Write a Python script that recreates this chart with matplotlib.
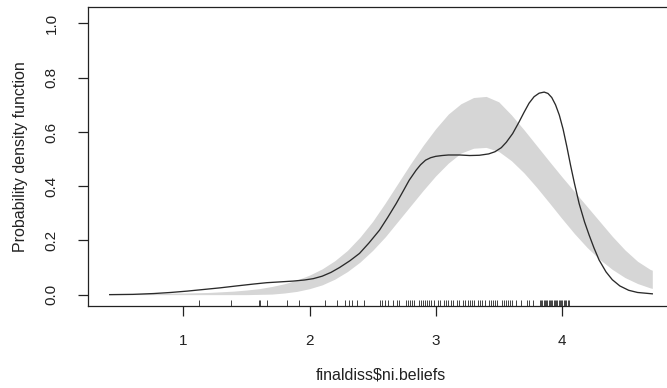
import matplotlib
matplotlib.use("Agg")
import matplotlib.pyplot as plt
from matplotlib.transforms import blended_transform_factory

plt.rcParams['font.family'] = ['Liberation Sans', 'DejaVu Sans']

# Kernel density estimate of the variable
dens_x = [0.416, 0.60, 0.764, 0.90, 1.03, 1.16, 1.29, 1.42, 1.555, 1.66, 1.766,
          1.87, 1.96, 2.03, 2.10, 2.17, 2.238, 2.32, 2.396, 2.47, 2.555, 2.62,
          2.687, 2.74, 2.79, 2.845, 2.88, 2.92, 2.96, 3.00, 3.05, 3.10, 3.19,
          3.27, 3.346, 3.42, 3.47, 3.52, 3.56, 3.61, 3.66, 3.70, 3.74, 3.78,
          3.82, 3.86, 3.89, 3.92, 3.95, 3.98, 4.01, 4.04, 4.07, 4.10, 4.137,
          4.18, 4.216, 4.255, 4.295, 4.35, 4.40, 4.46, 4.53, 4.60, 4.717]
dens_y = [0.000, 0.001, 0.004, 0.008, 0.013, 0.019, 0.025, 0.032, 0.039, 0.044,
          0.047, 0.050, 0.054, 0.059, 0.068, 0.082, 0.100, 0.125, 0.152, 0.190,
          0.238, 0.285, 0.336, 0.380, 0.422, 0.459, 0.479, 0.496, 0.505, 0.510,
          0.513, 0.515, 0.515, 0.513, 0.514, 0.519, 0.527, 0.542, 0.562, 0.594,
          0.636, 0.672, 0.706, 0.730, 0.743, 0.747, 0.742, 0.727, 0.700, 0.662,
          0.610, 0.545, 0.475, 0.410, 0.336, 0.268, 0.220, 0.172, 0.128, 0.084,
          0.055, 0.032, 0.016, 0.008, 0.003]

# Reference band for a normal model
band_x = [0.416, 0.6, 0.8, 1.0, 1.2, 1.4, 1.5, 1.6, 1.7, 1.8, 1.9, 2.0, 2.1,
          2.2, 2.3, 2.4, 2.5, 2.6, 2.7, 2.8, 2.9, 3.0, 3.1, 3.2, 3.3, 3.4, 3.5,
          3.6, 3.7, 3.8, 3.9, 4.0, 4.1, 4.2, 4.3, 4.4, 4.5, 4.6, 4.7, 4.717]
band_upper = [0.004, 0.004, 0.005, 0.006, 0.008, 0.013, 0.017, 0.022, 0.030,
              0.040, 0.054, 0.072, 0.095, 0.125, 0.163, 0.212, 0.270, 0.338,
              0.410, 0.482, 0.550, 0.612, 0.666, 0.704, 0.727, 0.731, 0.711,
              0.663, 0.608, 0.550, 0.492, 0.435, 0.380, 0.325, 0.270, 0.215,
              0.165, 0.123, 0.093, 0.090]
band_lower = [0.0, 0.0, 0.0, 0.0, 0.0, 0.0, 0.0, 0.001, 0.002, 0.006, 0.012,
              0.022, 0.036, 0.057, 0.085, 0.120, 0.163, 0.213, 0.270, 0.327,
              0.384, 0.438, 0.485, 0.522, 0.540, 0.543, 0.528, 0.494, 0.449,
              0.396, 0.339, 0.281, 0.225, 0.174, 0.130, 0.093, 0.063, 0.041,
              0.025, 0.023]

# Observed values (rug)
rug_x = [1.12, 1.38, 1.60, 1.61, 1.66, 1.82, 1.92, 2.12, 2.22, 2.28, 2.31,
         2.34, 2.38, 2.43, 2.555, 2.578, 2.598, 2.622, 2.662, 2.696, 2.713,
         2.764, 2.781, 2.798, 2.814, 2.831, 2.865, 2.882, 2.899, 2.916, 2.932,
         2.949, 2.966, 2.983, 3.017, 3.034, 3.067, 3.084, 3.101, 3.118, 3.135,
         3.168, 3.185, 3.219, 3.236, 3.253, 3.269, 3.286, 3.303, 3.337, 3.354,
         3.371, 3.387, 3.421, 3.438, 3.455, 3.471, 3.488, 3.522, 3.539, 3.556,
         3.572, 3.589, 3.606, 3.640, 3.674, 3.724, 3.741, 3.775, 3.825, 3.835,
         3.845, 3.855, 3.865, 3.875, 3.885, 3.895, 3.905, 3.915, 3.925, 3.935,
         3.945, 3.955, 3.965, 3.975, 3.985, 3.995, 4.005, 4.015, 4.025, 4.035,
         4.045, 4.055]

x_ticks = [1, 2, 3, 4]
y_ticks = [0.0, 0.2, 0.4, 0.6, 0.8, 1.0]
y_tick_labels = ["0.0", "0.2", "0.4", "0.6", "0.8", "1.0"]

fig = plt.figure(figsize=(6.67, 3.88), dpi=100)
ax = fig.add_axes([88 / 667, (388 - 305.7) / 388, (674 - 88) / 667, (305.7 - 7) / 388])

ax.fill_between(band_x, band_lower, band_upper, color="#d6d6d6", linewidth=0)
ax.plot(dens_x, dens_y, color="#2a2a2a", linewidth=0.95)

trans = blended_transform_factory(ax.transData, ax.transAxes)
ax.vlines(rug_x, 0, 0.019, transform=trans, color="#222222", linewidth=0.6)

ax.set_xlim(0.244, 4.889)
ax.set_ylim(-0.0408, 1.0608)

ax.set_xticks(x_ticks)
ax.set_xticklabels([str(t) for t in x_ticks])
ax.set_yticks(y_ticks)
ax.set_yticklabels(y_tick_labels, rotation=90, va="center")

ax.tick_params(axis="both", direction="out", length=7.2, width=0.9,
               labelsize=11, colors="#222222")
ax.tick_params(axis="x", pad=13)
ax.tick_params(axis="y", pad=14)

for side in ["left", "bottom", "top"]:
    ax.spines[side].set_linewidth(0.9)
    ax.spines[side].set_color("#222222")
ax.spines["right"].set_visible(False)

ax.set_xlabel(r"finaldiss\$ni.beliefs", fontsize=11.5, color="#222222", labelpad=14)
ax.set_ylabel("Probability density function", fontsize=11.5, color="#222222", labelpad=12)

fig.savefig("out.png", dpi=100)
